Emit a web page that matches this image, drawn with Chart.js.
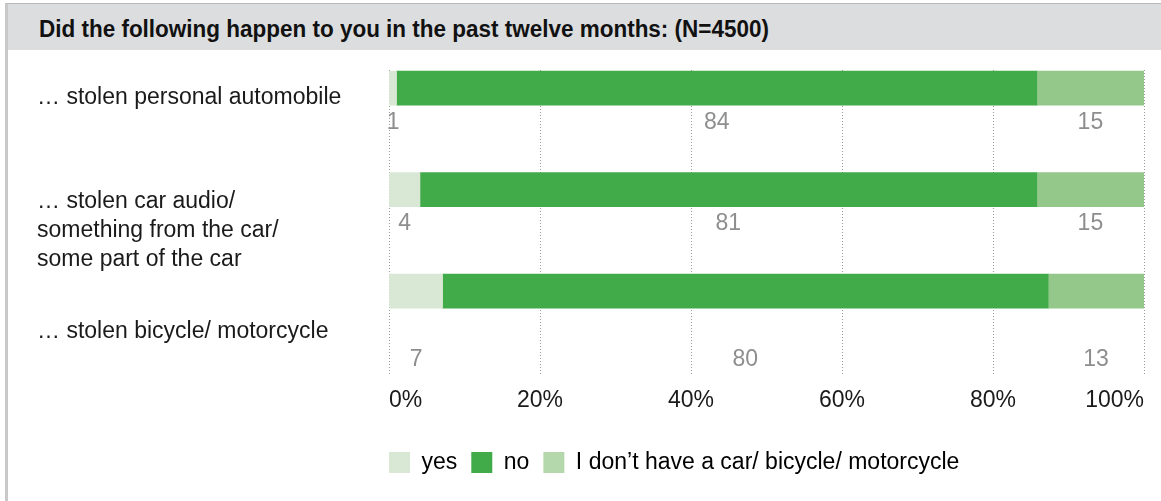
<!DOCTYPE html>
<html lang="en">
<head>
  <meta charset="UTF-8">
  <title>Theft in the past twelve months</title>
  <script src="https://cdn.jsdelivr.net/npm/chart.js"></script>
  <style>
    html, body { margin: 0; padding: 0; background: #fff; }
    #frame {
      position: absolute; left: 5px; top: 3px; width: 1156px; height: 498px;
      border-left: 3px solid #c9c9c9; border-top: 1px solid #b9b9b9;
    }
    #band { height: 46px; background: #dcdddf; }
    #title {
      position: absolute; left: 39px; top: 16px; white-space: nowrap;
      line-height: 1; color: #111; transform-origin: 0 50%;
      font: bold 23px "Liberation Sans", Arial, sans-serif;
    }
    #grafico { position: absolute; left: 0; top: 0; }
  </style>
</head>
<body>
  <div id="frame"><div id="band"></div></div>
  <span id="title">Did the following happen to you in the past twelve months: (N=4500)</span>
  <canvas id="grafico" width="1161" height="501"></canvas>

  <script>
    const categorie = [
      ['… stolen personal automobile'],
      ['… stolen car audio/', 'something from the car/', 'some part of the car'],
      ['… stolen bicycle/ motorcycle']
    ];
    const serie = ['yes', 'no', 'I don’t have a car/ bicycle/ motorcycle'];
    const si = [1.0, 4.1, 7.1];
    const no = [84.8, 81.7, 80.2];
    const nessuno = [14.2, 14.2, 12.7];
    // numeri stampati sotto le barre
    const etichetteSi = ['1', '4', '7'];
    const etichetteNo = ['84', '81', '80'];
    const etichetteNessuno = ['15', '15', '13'];
    const tickX = [0, 20, 40, 60, 80, 100];

    const colori = ['#d8e8d4', '#41ab4a', '#94c88b'];
    const coloriLegenda = ['#d8e8d4', '#41ab4a', '#b4d8ab'];
    const FONT = '"Liberation Sans", Arial, sans-serif';

    // titolo stretto come nell'originale
    const titolo = document.getElementById('title');
    titolo.style.transform = 'scaleX(' + (730 / titolo.offsetWidth) + ')';

    const punti = arr => arr.map((v, i) => ({ x: v, y: i }));

    // testo delle categorie a sinistra
    const offsetCat = [9, 41.5, 41];
    const categoriePlugin = {
      id: 'categorie',
      afterDraw(chart) {
        const { ctx } = chart;
        const y = chart.scales.y;
        ctx.save();
        ctx.font = '23px ' + FONT;
        ctx.fillStyle = '#1a1a1a';
        ctx.textBaseline = 'middle';
        ctx.textAlign = 'left';
        categorie.forEach((righe, i) => {
          const centro = y.getPixelForValue(i) + offsetCat[i];
          righe.forEach((t, k) => {
            ctx.fillText(t, 37, centro + (k - (righe.length - 1) / 2) * 29);
          });
        });
        ctx.restore();
      }
    };

    // numeri sotto le barre
    const offsetVal = [34.5, 34.5, 69];
    const valoriPlugin = {
      id: 'valori',
      afterDatasetsDraw(chart) {
        const { ctx } = chart;
        const testi = [etichetteSi, etichetteNo, etichetteNessuno];
        ctx.save();
        ctx.font = '23px ' + FONT;
        ctx.fillStyle = '#8e8e8e';
        ctx.textBaseline = 'middle';
        ctx.textAlign = 'center';
        chart.data.datasets.forEach((ds, d) => {
          chart.getDatasetMeta(d).data.forEach((el, i) => {
            const cx = (el.x + el.base) / 2;
            ctx.fillText(testi[d][i], cx, el.y + offsetVal[i]);
          });
        });
        ctx.restore();
      }
    };

    const ctx = document.getElementById('grafico').getContext('2d');
    new Chart(ctx, {
      type: 'bar',
      data: {
        datasets: [
          { label: serie[0], data: punti(si), backgroundColor: colori[0] },
          { label: serie[1], data: punti(no), backgroundColor: colori[1] },
          { label: serie[2], data: punti(nessuno), backgroundColor: colori[2] }
        ]
      },
      options: {
        indexAxis: 'y',
        responsive: false,
        animation: false,
        barThickness: 34,
        layout: { padding: { left: 375, right: 17, top: 70, bottom: 17 } },
        scales: {
          x: {
            type: 'linear', stacked: true, min: 0, max: 100,
            afterBuildTicks: s => { s.ticks = tickX.map(v => ({ value: v })); },
            afterFit: s => { s.height += 11.5; },
            grid: { color: '#9a9a9a', lineWidth: 1, drawTicks: false },
            border: { display: false, dash: [1, 2] },
            ticks: {
              align: 'inner', padding: 11.5, color: '#1a1a1a',
              font: { family: FONT, size: 23 },
              callback: v => v + '%'
            }
          },
          y: {
            type: 'linear', stacked: true, reverse: true, offset: false,
            min: -0.179, max: 2.826,
            afterFit: s => { s.width = 14; },
            grid: { display: false, offset: false },
            border: { display: false },
            ticks: { display: false }
          }
        },
        plugins: {
          tooltip: { enabled: false },
          legend: {
            position: 'bottom', align: 'start',
            labels: {
              boxWidth: 21, boxHeight: 21, padding: 14, color: '#1a1a1a',
              font: { family: FONT, size: 23 },
              generateLabels: chart => chart.data.datasets.map((ds, i) => ({
                text: ds.label, fillStyle: coloriLegenda[i], strokeStyle: coloriLegenda[i],
                lineWidth: 0, datasetIndex: i, hidden: false
              }))
            }
          }
        }
      },
      plugins: [categoriePlugin, valoriPlugin]
    });
  </script>
</body>
</html>
